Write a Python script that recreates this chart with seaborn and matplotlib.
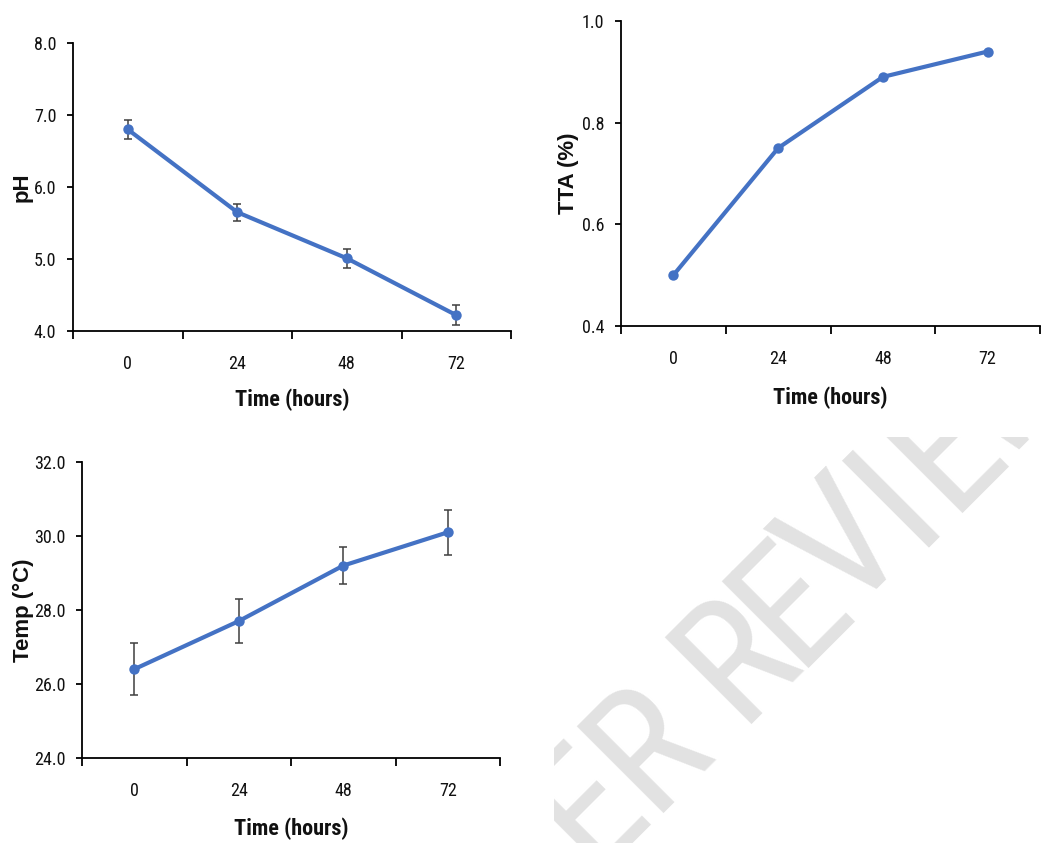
import numpy as np
import pandas as pd
import matplotlib
matplotlib.use("Agg")
import matplotlib.pyplot as plt
import seaborn as sns
from matplotlib import font_manager
from matplotlib.transforms import IdentityTransform

# ---------------- data ----------------
hours = ["0", "24", "48", "72"]
ph_mean = [6.80, 5.65, 5.01, 4.22]
ph_err = [0.13, 0.12, 0.13, 0.14]
tta_mean = [0.50, 0.75, 0.89, 0.94]
temp_mean = [26.4, 27.7, 29.2, 30.1]
temp_err = [0.7, 0.6, 0.5, 0.6]

ph_ticks = [4.0, 5.0, 6.0, 7.0, 8.0]
tta_ticks = [0.4, 0.6, 0.8, 1.0]
temp_ticks = [24.0, 26.0, 28.0, 30.0, 32.0]

x_title = "Time (hours)"
ph_title = "pH"
tta_title = "TTA (%)"
temp_title = "Temp (°C)"
watermark = "PEER REVIEW"

# ---------------- style ----------------
sns.set_style("white")
names = {f.name for f in font_manager.fontManager.ttflist}


def pick(cands):
    for c in cands:
        if c in names:
            return c
    return "DejaVu Sans"


TICK_FONT = pick(["Liberation Sans Narrow", "Roboto Condensed", "Lato"])
XLAB_FONT = pick(["Liberation Sans Narrow", "Roboto Condensed", "Lato"])
WM_FONT = pick(["Roboto Condensed", "Liberation Sans Narrow", "Lato"])
condensed = TICK_FONT != "Lato"
TICK_SIZE = 13 if condensed else 11.5
XLAB_SIZE = 16 if condensed else 14
WM_SIZE = 124 if WM_FONT != "Lato" else 100
YLAB_FONT = "Liberation Sans"
plt.rcParams["font.family"] = [TICK_FONT, "DejaVu Sans"]

BLUE = "#4472C4"
ERR = "#3f3f3f"
W, H = 1042, 843

fig = plt.figure(figsize=(W / 100, H / 100), dpi=100)
fig.patch.set_facecolor("white")


def rect_px(left, right, top, bottom):
    return [left / W, (H - bottom) / H, (right - left) / W, (bottom - top) / H]


def panel(rect, values, errors, yticks, ylabel, ylab_x, xlab_y, fmt):
    ax = fig.add_axes(rect)
    df = pd.DataFrame({"time": hours, "value": values})
    sns.lineplot(data=df, x="time", y="value", ax=ax, color=BLUE, linewidth=3,
                 marker="o", markersize=7.5, markeredgewidth=0, sort=False,
                 errorbar=None, zorder=3)
    if errors is not None:
        ax.errorbar(hours, values, yerr=errors, fmt="none", ecolor=ERR,
                    elinewidth=1.1, capsize=3, capthick=1.1, zorder=2)
    ax.set_xlim(-0.5, len(hours) - 0.5)
    ax.set_ylim(yticks[0], yticks[-1])
    ax.set_yticks(yticks)
    ax.set_yticklabels([fmt.format(t) for t in yticks])
    ax.set_xticks(range(len(hours)))
    ax.set_xticklabels(hours)
    ax.set_xticks(np.arange(-0.5, len(hours), 1.0), minor=True)
    for s in ["top", "right"]:
        ax.spines[s].set_visible(False)
    for s in ["left", "bottom"]:
        ax.spines[s].set_color("black")
        ax.spines[s].set_linewidth(1.3)
    ax.tick_params(axis="x", which="major", length=0, pad=17.5,
                   labelsize=TICK_SIZE, labelcolor="#111111")
    ax.tick_params(axis="x", which="minor", length=6, width=1.3,
                   direction="out", color="black", bottom=True)
    ax.tick_params(axis="y", which="major", length=4.5, width=1.3,
                   direction="out", color="black", pad=7.5, left=True,
                   labelsize=TICK_SIZE, labelcolor="#111111")
    for lab in ax.get_xticklabels() + ax.get_yticklabels():
        lab.set_fontfamily(TICK_FONT)
    ax.set_xlabel(x_title, fontfamily=XLAB_FONT, fontweight="bold",
                  fontsize=XLAB_SIZE, color="#111111")
    ax.xaxis.set_label_coords(0.5, xlab_y)
    ax.set_ylabel(ylabel, fontfamily=YLAB_FONT, fontweight="bold",
                  fontsize=16, color="#111111")
    ax.yaxis.set_label_coords(ylab_x, 0.5)
    ax.grid(False)
    return ax


panel(rect_px(73, 511, 43, 331), ph_mean, ph_err, ph_ticks, ph_title,
      -0.093, -0.198, "{:.1f}")
panel(rect_px(621, 1040, 21, 326), tta_mean, None, tta_ticks, tta_title,
      -0.1, -0.198, "{:.1f}")
panel(rect_px(82, 500, 462, 758), temp_mean, temp_err, temp_ticks, temp_title,
      -0.115, -0.2, "{:.1f}")

# ---------------- watermark (clipped to lower-right region) ----------------
wm = fig.add_axes(rect_px(554, W, 437, H))
wm.axis("off")
wm.set_zorder(-1)
letter_t = [-320, -238, -155, -69, None, 56, 133, 211, 281, 352, 440]
S = 1463.0
for ch, t in zip(watermark, letter_t):
    if t is None:
        continue
    x = (S + t * np.sqrt(2)) / 2
    y = H - (S - t * np.sqrt(2)) / 2
    txt = wm.text(x, y, ch, transform=IdentityTransform(), rotation=45,
                  rotation_mode="anchor", ha="center", va="baseline",
                  fontsize=WM_SIZE, fontfamily=WM_FONT, fontweight="normal",
                  color="#e2e2e2", clip_on=True)
    txt.set_clip_box(wm.bbox)

fig.savefig("out.png", dpi=100, facecolor="white")
